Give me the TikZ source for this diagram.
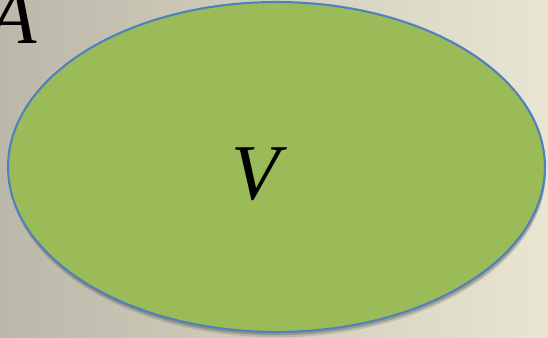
\documentclass[tikz,border=0pt]{standalone}
\usepackage{fontspec}
\setmainfont{Liberation Serif}
\usetikzlibrary{shapes.geometric,shadows}
\definecolor{setgreen}{RGB}{155,187,89}
\definecolor{setblue}{RGB}{79,129,189}
\definecolor{bgleft}{RGB}{188,184,169}
\definecolor{bgright}{RGB}{233,229,211}
\tikzset{
  vset/.style={ellipse,draw=setblue,line width=1.2pt,fill=setgreen,
    minimum width=10.74cm,minimum height=6.6cm,inner sep=0pt,
    drop shadow={shadow xshift=0.5pt,shadow yshift=-3pt,opacity=0.12,fill=black},
    drop shadow={shadow xshift=0.5pt,shadow yshift=-1.8pt,opacity=0.18,fill=black}},
  setname/.style={font=\fontsize{45}{45}\selectfont\itshape,inner sep=0pt}
}
\begin{document}
\begin{tikzpicture}[x=0.02cm,y=-0.02cm]
    % background
    \useasboundingbox (0,0) rectangle (548,338);
    \shade[left color=bgleft,right color=bgright] (0,0) rectangle (548,338);
    \clip (0,0) rectangle (548,338);
    % the set V inside A
    \node[vset] (ellV) at (276.5,167) {};
    \node[setname,anchor=base east] (setA) at (37,43) {A};
    \node[setname,anchor=base] (setV) at (256,199) {V};
\end{tikzpicture}
\end{document}
